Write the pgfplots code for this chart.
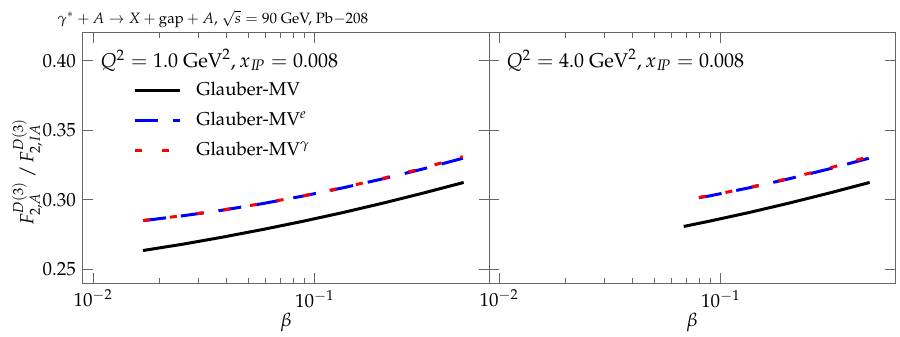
\documentclass[border=0pt]{standalone}
\usepackage[T1]{fontenc}
\usepackage{mathpazo}
\usepackage{pgfplots}
\pgfplotsset{compat=1.18}

\tikzset{
  mvblack/.style={black, line width=1.5pt},
  mvblue/.style={blue, line width=1.5pt, dash pattern=on 11.5pt off 7.5pt},
  mvred/.style={red, line width=1.5pt, dash pattern=on 3.5pt off 10pt},
}

\begin{document}
\begin{tikzpicture}
\path[use as bounding box] (-41.5pt,-27pt) rectangle (408.5pt,141.5pt);

\begin{axis}[name=pa,
  xmode=log, scale only axis, width=203pt, height=125pt,
  xmin=0.009, xmax=0.61, ymin=0.24, ymax=0.42,
  xtick={0.01,0.1}, ytick={0.25,0.30,0.35,0.40},
  yticklabel style={/pgf/number format/.cd, fixed, fixed zerofill, precision=2},
  major tick length=5pt, minor tick length=2.5pt,
  axis line style={gray!80!black, line width=0.5pt},
  tick style={gray!80!black, line width=0.5pt},
  tick label style={font=\fontsize{9.5}{11}\selectfont},
  label style={font=\fontsize{9.5}{11}\selectfont},
  xlabel={$\beta$},
  xlabel style={at={(axis description cs:0.5,-0.156)}, anchor=center},
  ylabel={$F^{D(3)}_{2,A}\,/\,F^{D(3)}_{2,IA}$},
  ylabel style={at={(axis description cs:-0.138,0.444)}, anchor=center},
  legend image code/.code={\draw[#1] plot coordinates {(0pt,0pt) (22.5pt,0pt)};},
  legend style={draw=none, fill=none, at={(rel axis cs:0,1)}, anchor=north west,
    xshift=22pt, yshift=-22pt, row sep=6pt, column sep=7.5pt,
    font=\fontsize{9.3}{11}\selectfont,
    nodes={inner sep=0pt, text height=7pt, text depth=2pt}},
  legend cell align=left,
]
\addplot[mvblack] coordinates {
  (0.0168,0.2634) (0.0255,0.2680) (0.0386,0.2731) (0.0585,0.2786) (0.0887,0.2845)
  (0.1345,0.2908) (0.204,0.2976) (0.309,0.3048) (0.469,0.3124)};
\addlegendentry{Glauber-MV}
\addplot[mvblue] coordinates {
  (0.0168,0.2849) (0.0254,0.2884) (0.0385,0.2925) (0.0583,0.2972) (0.0883,0.3026)
  (0.1337,0.3085) (0.2025,0.3150) (0.307,0.3221) (0.4645,0.3298)};
\addlegendentry{Glauber-MV$^{e}$}
\addplot[mvred] coordinates {
  (0.0168,0.2850) (0.0254,0.2885) (0.0385,0.2926) (0.0583,0.2973) (0.0883,0.3027)
  (0.1337,0.3087) (0.2025,0.3153) (0.307,0.3226) (0.4645,0.3310)};
\addlegendentry{Glauber-MV$^{\gamma}$}
\node[anchor=west, inner sep=0pt, font=\fontsize{10}{12}\selectfont] at (rel axis cs:0,1)
  [xshift=8.5pt, yshift=-13.5pt] {$Q^2 = 1.0~\mathrm{GeV}^2, x_{I\!P} = 0.008$};
\end{axis}

\begin{axis}[name=pb, at={(pa.south east)}, anchor=south west,
  xmode=log, scale only axis, width=203pt, height=125pt,
  xmin=0.009, xmax=0.61, ymin=0.24, ymax=0.42,
  xtick={0.01,0.1}, ytick={0.25,0.30,0.35,0.40}, yticklabels={},
  major tick length=5pt, minor tick length=2.5pt,
  axis line style={gray!80!black, line width=0.5pt},
  tick style={gray!80!black, line width=0.5pt},
  tick label style={font=\fontsize{9.5}{11}\selectfont},
  label style={font=\fontsize{9.5}{11}\selectfont},
  xlabel={$\beta$},
  xlabel style={at={(axis description cs:0.5,-0.156)}, anchor=center},
]
\addplot[mvblack] coordinates {
  (0.068,0.2807) (0.0887,0.2845) (0.1345,0.2908) (0.204,0.2976) (0.309,0.3048) (0.469,0.3124)};
\addplot[mvblue] coordinates {
  (0.0796,0.3015) (0.0883,0.3026) (0.1337,0.3085) (0.2025,0.3150) (0.307,0.3221) (0.4645,0.3298)};
\addplot[mvred] coordinates {
  (0.0796,0.3016) (0.0883,0.3027) (0.1337,0.3087) (0.2025,0.3153) (0.307,0.3226) (0.4645,0.3310)};
\node[anchor=west, inner sep=0pt, font=\fontsize{10}{12}\selectfont] at (rel axis cs:0,1)
  [xshift=8.5pt, yshift=-13.5pt] {$Q^2 = 4.0~\mathrm{GeV}^2, x_{I\!P} = 0.008$};
\end{axis}

\node[anchor=west, inner sep=0pt, font=\fontsize{7.5}{9}\selectfont] at ([xshift=-13pt,yshift=7pt]pa.north west)
  {$\gamma^{*} + A \rightarrow X + \mathrm{gap} + A$, $\sqrt{s} = 90$ GeV, Pb$-$208};
\end{tikzpicture}
\end{document}
